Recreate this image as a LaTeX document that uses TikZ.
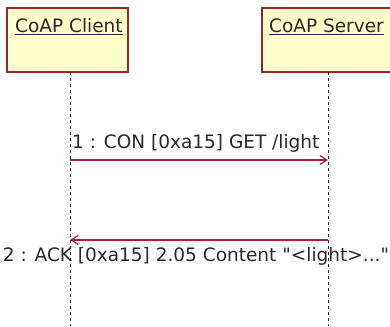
\documentclass[tikz,border=0pt]{standalone}
\usepackage{fontspec}
\setmainfont{DejaVu Sans}
\newfontfamily\lblfont{DejaVu Sans}[Ligatures=TeXOff]
\usetikzlibrary{arrows.meta}
\definecolor{boxfill}{RGB}{255,255,204}
\definecolor{boxedge}{RGB}{150,40,40}
\definecolor{msgcol}{RGB}{165,35,50}
\definecolor{txt}{RGB}{40,40,40}
\begin{document}
\begin{tikzpicture}[x=1pt,y=-1pt,
  actor/.style={draw=boxedge,line width=1.4pt,fill=boxfill},
  lifeline/.style={draw=black!85,line width=1pt,dash pattern=on 3pt off 3pt},
  msg/.style={draw=msgcol,line width=1.2pt,-{Straight Barb[length=7pt,width=9pt]}},
  lbl/.style={text=txt,font=\lblfont\fontsize{18.5}{20}\selectfont,inner sep=0pt}]
\useasboundingbox (0,0) rectangle (390,326);
\draw[actor] (7,8) rectangle (128,72);
\draw[actor] (262,8) rectangle (396,72);
\node[lbl,anchor=west] (c) at (15,27) {\underline{CoAP Client}};
\node[lbl,anchor=west] (s) at (269,27) {\underline{CoAP Server}};
\coordinate (ct) at (70,72);
\coordinate (cb) at (70,326);
\coordinate (st) at (328,72);
\coordinate (sb) at (328,326);
\draw[lifeline] (ct) -- (cb);
\draw[lifeline] (st) -- (sb);
\coordinate (a1) at (70,160);
\coordinate (b1) at (328,160);
\draw[msg] (a1) -- (b1);
\node[lbl,anchor=west] (m1) at (72,143) {1 : CON [0xa15] GET /light};
\coordinate (a2) at (328,240);
\coordinate (b2) at (70,240);
\draw[msg] (a2) -- (b2);
\node[lbl] (m2) at (196,256) {2 : ACK [0xa15] 2.05 Content "<light>..."};
\end{tikzpicture}
\end{document}
